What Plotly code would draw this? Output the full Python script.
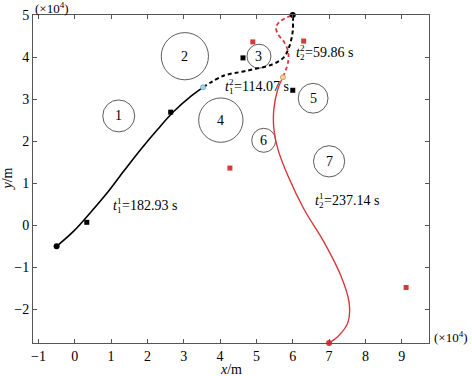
import plotly.graph_objects as go

# ---- data (units of 1e4 m) ----
uav1_solid_x = [-0.50, -0.03, 0.44, 0.91, 1.35, 1.82, 2.29, 2.73, 3.20, 3.53]
uav1_solid_y = [-0.50, -0.14, 0.31, 0.79, 1.29, 1.81, 2.29, 2.71, 3.07, 3.28]
uav1_dash_x = [3.53, 4.08, 4.71, 5.45, 5.76, 5.90, 6.00, 6.00]
uav1_dash_y = [3.28, 3.55, 3.67, 3.83, 4.00, 4.24, 4.62, 5.00]

uav2_solid_x = [7.00, 7.25, 7.52, 7.55, 7.33, 6.86, 6.31, 5.87, 5.59, 5.48, 5.48, 5.59, 5.73]
uav2_solid_y = [-2.80, -2.64, -2.31, -1.83, -1.21, -0.40, 0.38, 1.17, 1.81, 2.29, 2.76, 3.24, 3.52]
uav2_dash_x = [5.73, 5.87, 5.87, 5.76, 5.59, 5.54, 5.67, 6.00]
uav2_dash_y = [3.52, 3.88, 4.14, 4.36, 4.55, 4.71, 4.86, 5.00]

black_sq_x = [0.33, 2.64, 4.63, 6.00]
black_sq_y = [0.07, 2.69, 3.98, 3.21]
red_sq_x = [4.90, 6.30, 4.27, 9.12]
red_sq_y = [4.36, 4.38, 1.36, -1.48]

obs_labels = ["1", "2", "3", "4", "5", "6", "7"]
obs_x = [1.21, 3.03, 5.07, 4.02, 6.56, 5.20, 7.00]
obs_y = [2.60, 4.02, 4.02, 2.50, 3.02, 2.02, 1.52]
obs_r = [0.44, 0.65, 0.33, 0.61, 0.41, 0.33, 0.43]

time_sup = ["1", "2", "2", "1"]
time_sub = ["1", "1", "2", "2"]
time_val = ["=182.93 s", "=114.07 s", "=59.86 s", "=237.14 s"]
time_x = [0.99, 4.08, 6.03, 6.56]
time_y = [0.48, 3.31, 4.12, 0.60]

x_ticks = [-1, 0, 1, 2, 3, 4, 5, 6, 7, 8, 9]
y_ticks = [-2, -1, 0, 1, 2, 3, 4, 5]

XR = [-1.15, 9.75]
YR = [-2.8, 5.0]
W, H = 472, 376
ML, MR, MT, MB = 33, 43, 15, 33
px_x = (W - ML - MR) / (XR[1] - XR[0])
px_y = (H - MT - MB) / (YR[1] - YR[0])
ratio = px_x / px_y

RED = "#d7383a"
FONT = "'Liberation Serif', 'Times New Roman', serif"

fig = go.Figure()
fig.add_trace(go.Scatter(x=uav1_solid_x, y=uav1_solid_y, mode="lines",
                         line=dict(color="black", width=1.6), line_shape="spline"))
fig.add_trace(go.Scatter(x=uav1_dash_x, y=uav1_dash_y, mode="lines",
                         line=dict(color="black", width=2, dash="4px,3px"), line_shape="spline"))
fig.add_trace(go.Scatter(x=uav2_solid_x, y=uav2_solid_y, mode="lines",
                         line=dict(color=RED, width=1.4), line_shape="spline"))
fig.add_trace(go.Scatter(x=uav2_dash_x, y=uav2_dash_y, mode="lines",
                         line=dict(color=RED, width=1.8, dash="4px,3px"), line_shape="spline"))
fig.add_trace(go.Scatter(x=black_sq_x, y=black_sq_y, mode="markers",
                         marker=dict(symbol="square", size=5, color="black")))
fig.add_trace(go.Scatter(x=red_sq_x, y=red_sq_y, mode="markers",
                         marker=dict(symbol="square", size=5, color=RED)))
# start / end points
fig.add_trace(go.Scatter(x=[uav1_solid_x[0], uav1_dash_x[-1]], y=[uav1_solid_y[0], uav1_dash_y[-1]],
                         mode="markers", marker=dict(size=6, color="black"), cliponaxis=False))
fig.add_trace(go.Scatter(x=[uav2_solid_x[0]], y=[uav2_solid_y[0]],
                         mode="markers", marker=dict(size=6, color=RED), cliponaxis=False))
fig.add_trace(go.Scatter(x=[uav1_solid_x[-1]], y=[uav1_solid_y[-1]], mode="markers",
                         marker=dict(size=5, color="#a8cfe6", line=dict(color="#7fb3d5", width=1))))
fig.add_trace(go.Scatter(x=[uav2_solid_x[-1]], y=[uav2_solid_y[-1]], mode="markers",
                         marker=dict(size=5, color="#f0d0a0", line=dict(color="#d0a060", width=1))))

shapes = []
for cx, cy, r in zip(obs_x, obs_y, obs_r):
    ry = r * ratio
    shapes.append(dict(type="circle", xref="x", yref="y", x0=cx - r, x1=cx + r,
                       y0=cy - ry, y1=cy + ry, line=dict(color="#333", width=0.8), layer="below"))

ann = []
for lab, cx, cy in zip(obs_labels, obs_x, obs_y):
    ann.append(dict(x=cx, y=cy, text=lab, showarrow=False, font=dict(family=FONT, size=14, color="black")))
for sp, sb, val, tx, ty in zip(time_sup, time_sub, time_val, time_x, time_y):
    ann.append(dict(x=tx, y=ty, text="<i>t</i>", showarrow=False, xanchor="left", yanchor="middle",
                    font=dict(family=FONT, size=14, color="black")))
    ann.append(dict(x=tx, y=ty, text=sp, showarrow=False, xanchor="left", yanchor="middle",
                    xshift=4, yshift=4, font=dict(family=FONT, size=9, color="black")))
    ann.append(dict(x=tx, y=ty, text=sb, showarrow=False, xanchor="left", yanchor="middle",
                    xshift=4, yshift=-5, font=dict(family=FONT, size=9, color="black")))
    ann.append(dict(x=tx, y=ty, text=val, showarrow=False, xanchor="left", yanchor="middle",
                    xshift=9, font=dict(family=FONT, size=14, color="black")))
ann.append(dict(x=0, y=1, xref="paper", yref="paper", text="(×10<sup>4</sup>)", showarrow=False,
                xanchor="left", yanchor="bottom", yshift=-3, font=dict(family=FONT, size=13, color="black")))
ann.append(dict(x=1, y=0, xref="paper", yref="paper", text="(×10<sup>4</sup>)", showarrow=False,
                xanchor="left", yanchor="middle", xshift=3, yshift=6, font=dict(family=FONT, size=13, color="black")))
ann.append(dict(x=0.5, y=0, xref="paper", yref="paper", text="<i>x</i>/m", showarrow=False,
                xanchor="center", yanchor="top", yshift=-17, font=dict(family=FONT, size=14, color="black")))
ann.append(dict(x=0, y=0.5, xref="paper", yref="paper", text="<i>y</i>/m", showarrow=False, textangle=-90,
                xanchor="right", yanchor="middle", xshift=-17, font=dict(family=FONT, size=14, color="black")))

axis_common = dict(showgrid=False, zeroline=False, showline=True, linecolor="#555", linewidth=1,
                   mirror="ticks", ticks="inside", ticklen=4, tickcolor="#555", automargin=False,
                   tickfont=dict(family=FONT, size=14, color="black"))

fig.update_layout(
    width=W, height=H, margin=dict(l=ML, r=MR, t=MT, b=MB),
    paper_bgcolor="white", plot_bgcolor="white", showlegend=False,
    shapes=shapes, annotations=ann,
    xaxis=dict(range=XR, tickvals=x_ticks, **axis_common),
    yaxis=dict(range=YR, tickvals=y_ticks, **axis_common),
)
fig.write_html("out.html", config={"displayModeBar": False},
               post_script="document.body.style.margin='0px';")
